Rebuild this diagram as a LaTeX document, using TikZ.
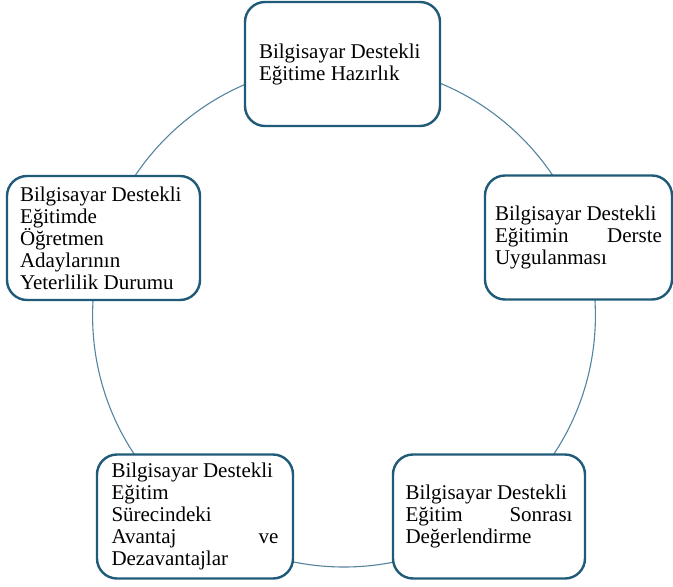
\documentclass[tikz,border=0pt]{standalone}
\usepackage{fontspec}
\setmainfont{Liberation Serif}
\usetikzlibrary{positioning}
\definecolor{boxblue}{RGB}{31,90,120}
\definecolor{ringblue}{RGB}{84,132,158}
\tikzset{
stage/.style={rectangle,rounded corners=20pt,draw=boxblue,line width=2.4pt,
fill=white,minimum width=#1,minimum height=124pt,text width=167pt,
align=flush left,inner sep=0pt,font=\fontsize{21}{22}\selectfont},
stage/.default={193pt},
ring/.style={draw=ringblue,line width=1.1pt},
}
\begin{document}
\begin{tikzpicture}[x=1pt,y=-1pt]
    \useasboundingbox (0,0) rectangle (673,587);
    \coordinate (mid) at (344,315.6);
    \draw[ring] (mid) circle (251.4pt);

    \node[stage=195pt] (hazirlik) at (342.5,64) {Bilgisayar Destekli\\Eğitime Hazırlık};
    \node[stage=187pt] (uygulama) at (578.5,237.5) {Bilgisayar Destekli\\Eğitimin\hfill Derste\\Uygulanması};
    \node[stage=192pt] (sonra) at (489,516.5) {Bilgisayar Destekli\\Eğitim\hfill Sonrası\\Değerlendirme};
    \node[stage=196pt] (surec) at (195,516.5) {Bilgisayar Destekli\\Eğitim\\Sürecindeki\\Avantaj\hfill ve\\Dezavantajlar};
    \node[stage] (yeterlilik) at (103.5,238) {Bilgisayar Destekli\\Eğitimde\\Öğretmen\\Adaylarının\\Yeterlilik Durumu};
    %\draw[ring] (hazirlik) -- (uygulama);
\end{tikzpicture}
\end{document}
